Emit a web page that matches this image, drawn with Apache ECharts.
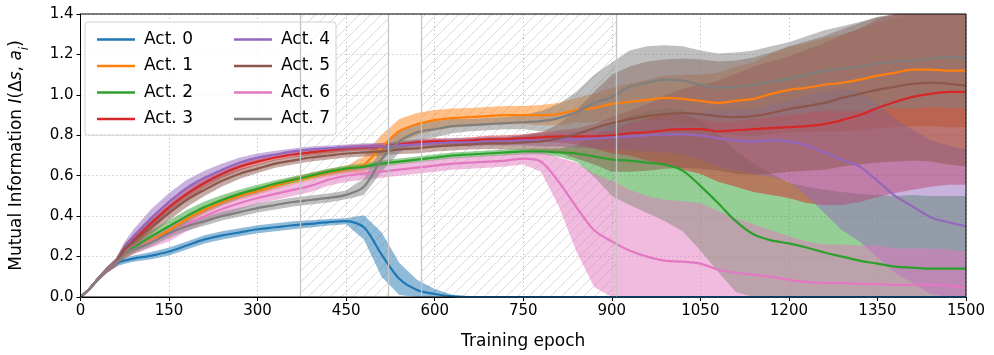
<!DOCTYPE html>
<html>
<head>
<meta charset="utf-8">
<script src="https://cdn.jsdelivr.net/npm/echarts@6/dist/echarts.min.js"></script>
<style>
  html, body { margin: 0; padding: 0; background: #fff; }
  #chart { width: 994px; height: 355px; }
</style>
</head>
<body>
<div id="chart"></div>
<script>
// Training epochs at which the curves are sampled
const epochs = [0, 15, 30, 45, 60, 75, 90,
  120, 150, 180, 210, 240, 270, 300, 330, 360, 390, 420, 450,
  480, 510, 540, 570, 600, 630, 660, 690, 720, 750,
  780, 810, 840, 870, 900, 930, 960, 990, 1020, 1050,
  1080, 1110, 1140, 1170, 1200, 1230, 1260, 1290, 1320, 1350,
  1380, 1410, 1440, 1470, 1500];

const names = ['Act. 0', 'Act. 1', 'Act. 2', 'Act. 3', 'Act. 4', 'Act. 5', 'Act. 6', 'Act. 7'];
const colors = ['#1f77b4', '#ff7f0e', '#2ca02c', '#d62728', '#9467bd', '#8c564b', '#e377c2', '#7f7f7f'];

// Mean mutual information per actuator
const mean0 = [0, 0.04, 0.09, 0.135, 0.165, 0.18, 0.19,
  0.205, 0.225, 0.255, 0.285, 0.305, 0.32, 0.335, 0.345, 0.355, 0.362, 0.37, 0.375,
  0.345, 0.21, 0.09, 0.035, 0.015, 0.003, 0, 0, 0, 0,
  0, 0, 0, 0, 0, 0, 0, 0, 0, 0,
  0, 0, 0, 0, 0, 0, 0, 0, 0, 0,
  0, 0, 0, 0, 0];
const mean1 = [0, 0.04, 0.09, 0.135, 0.168, 0.205, 0.235,
  0.28, 0.33, 0.385, 0.43, 0.47, 0.5, 0.525, 0.55, 0.575, 0.595, 0.615, 0.63,
  0.655, 0.74, 0.82, 0.855, 0.875, 0.885, 0.89, 0.895, 0.9, 0.9,
  0.9, 0.905, 0.925, 0.935, 0.955, 0.965, 0.975, 0.985, 0.98, 0.97,
  0.96, 0.97, 0.98, 1.005, 1.025, 1.035, 1.05, 1.06, 1.075, 1.095,
  1.11, 1.125, 1.125, 1.12, 1.12];
const mean2 = [0, 0.04, 0.09, 0.135, 0.168, 0.21, 0.245,
  0.3, 0.35, 0.4, 0.445, 0.48, 0.51, 0.535, 0.56, 0.58, 0.6, 0.62, 0.635,
  0.645, 0.66, 0.67, 0.68, 0.69, 0.7, 0.705, 0.71, 0.715, 0.72,
  0.72, 0.715, 0.71, 0.695, 0.68, 0.675, 0.665, 0.655, 0.625, 0.55,
  0.465, 0.375, 0.31, 0.28, 0.265, 0.245, 0.22, 0.2, 0.18, 0.165,
  0.15, 0.145, 0.14, 0.14, 0.14];
const mean3 = [0, 0.04, 0.09, 0.135, 0.17, 0.235, 0.28,
  0.365, 0.445, 0.51, 0.565, 0.61, 0.645, 0.67, 0.69, 0.705, 0.715, 0.725, 0.735,
  0.74, 0.745, 0.755, 0.765, 0.77, 0.77, 0.775, 0.78, 0.78, 0.785,
  0.79, 0.795, 0.795, 0.795, 0.8, 0.81, 0.815, 0.825, 0.83, 0.83,
  0.82, 0.825, 0.83, 0.835, 0.84, 0.845, 0.855, 0.875, 0.9, 0.935,
  0.965, 0.99, 1.005, 1.015, 1.015];
const mean4 = [0, 0.04, 0.09, 0.135, 0.172, 0.245, 0.3,
  0.39, 0.47, 0.54, 0.59, 0.63, 0.665, 0.69, 0.705, 0.72, 0.73, 0.735, 0.74,
  0.745, 0.745, 0.75, 0.755, 0.76, 0.765, 0.765, 0.77, 0.77, 0.775,
  0.775, 0.78, 0.78, 0.785, 0.79, 0.795, 0.8, 0.805, 0.805, 0.8,
  0.785, 0.775, 0.77, 0.775, 0.77, 0.75, 0.715, 0.68, 0.645, 0.575,
  0.5, 0.447, 0.395, 0.37, 0.35];
const mean5 = [0, 0.04, 0.09, 0.135, 0.17, 0.24, 0.275,
  0.345, 0.415, 0.48, 0.53, 0.575, 0.61, 0.635, 0.66, 0.675, 0.69, 0.7, 0.71,
  0.715, 0.72, 0.73, 0.735, 0.745, 0.75, 0.755, 0.76, 0.76, 0.765,
  0.77, 0.785, 0.805, 0.835, 0.86, 0.88, 0.895, 0.905, 0.91, 0.905,
  0.895, 0.89, 0.895, 0.91, 0.93, 0.945, 0.96, 0.985, 1.005, 1.025,
  1.04, 1.055, 1.06, 1.055, 1.045];
const mean6 = [0, 0.04, 0.09, 0.135, 0.165, 0.21, 0.235,
  0.275, 0.31, 0.36, 0.4, 0.435, 0.465, 0.49, 0.51, 0.53, 0.55, 0.58, 0.6,
  0.61, 0.62, 0.63, 0.64, 0.65, 0.66, 0.665, 0.67, 0.675, 0.685,
  0.67, 0.57, 0.445, 0.33, 0.275, 0.23, 0.2, 0.18, 0.175, 0.165,
  0.135, 0.12, 0.11, 0.1, 0.085, 0.075, 0.07, 0.07, 0.065, 0.065,
  0.06, 0.06, 0.06, 0.055, 0.045];
const mean7 = [0, 0.04, 0.09, 0.135, 0.165, 0.21, 0.235,
  0.27, 0.315, 0.35, 0.375, 0.4, 0.42, 0.44, 0.455, 0.47, 0.48, 0.49, 0.505,
  0.545, 0.68, 0.77, 0.815, 0.83, 0.845, 0.85, 0.855, 0.86, 0.865,
  0.87, 0.885, 0.915, 0.96, 0.99, 1.04, 1.06, 1.075, 1.07, 1.05,
  1.035, 1.04, 1.05, 1.065, 1.08, 1.1, 1.12, 1.13, 1.14, 1.155,
  1.165, 1.17, 1.18, 1.185, 1.18];

// Standard deviation across runs (half-width of the shaded band)
const std0 = [0, 0.005, 0.01, 0.012, 0.015, 0.015, 0.015,
  0.018, 0.02, 0.02, 0.02, 0.02, 0.02, 0.02, 0.02, 0.02, 0.018, 0.016, 0.015,
  0.06, 0.11, 0.08, 0.05, 0.025, 0.008, 0.002, 0.002, 0.002, 0.002,
  0.002, 0.002, 0.002, 0.002, 0.002, 0.002, 0.002, 0.002, 0.002, 0.002,
  0.002, 0.002, 0.002, 0.002, 0.002, 0.002, 0.002, 0.002, 0.002, 0.002,
  0.002, 0.002, 0.002, 0.002, 0.002];
const std1 = [0, 0.005, 0.01, 0.012, 0.015, 0.015, 0.015,
  0.015, 0.018, 0.018, 0.018, 0.018, 0.018, 0.018, 0.018, 0.018, 0.018, 0.018, 0.018,
  0.04, 0.06, 0.06, 0.055, 0.05, 0.048, 0.045, 0.045, 0.045, 0.045,
  0.05, 0.055, 0.06, 0.07, 0.08, 0.09, 0.1, 0.11, 0.12, 0.13,
  0.15, 0.17, 0.18, 0.2, 0.21, 0.22, 0.23, 0.24, 0.25, 0.26,
  0.27, 0.28, 0.28, 0.28, 0.28];
const std2 = [0, 0.005, 0.01, 0.012, 0.015, 0.02, 0.025,
  0.03, 0.03, 0.03, 0.028, 0.025, 0.022, 0.02, 0.018, 0.016, 0.015, 0.015, 0.015,
  0.015, 0.015, 0.015, 0.015, 0.015, 0.015, 0.015, 0.015, 0.015, 0.015,
  0.015, 0.02, 0.04, 0.1, 0.18, 0.22, 0.25, 0.28, 0.3, 0.32,
  0.34, 0.35, 0.35, 0.33, 0.3, 0.3, 0.31, 0.32, 0.33, 0.34,
  0.35, 0.36, 0.36, 0.36, 0.36];
const std3 = [0, 0.005, 0.01, 0.015, 0.02, 0.025, 0.03,
  0.035, 0.035, 0.03, 0.025, 0.022, 0.02, 0.018, 0.015, 0.015, 0.015, 0.015, 0.015,
  0.015, 0.015, 0.015, 0.015, 0.015, 0.015, 0.015, 0.018, 0.02, 0.02,
  0.025, 0.03, 0.04, 0.06, 0.09, 0.11, 0.14, 0.17, 0.2, 0.22,
  0.25, 0.28, 0.31, 0.33, 0.35, 0.38, 0.4, 0.42, 0.43, 0.44,
  0.45, 0.46, 0.46, 0.46, 0.46];
const std4 = [0, 0.005, 0.01, 0.015, 0.02, 0.03, 0.035,
  0.045, 0.045, 0.04, 0.035, 0.03, 0.025, 0.02, 0.018, 0.015, 0.015, 0.015, 0.015,
  0.015, 0.015, 0.018, 0.02, 0.02, 0.02, 0.02, 0.02, 0.02, 0.025,
  0.03, 0.035, 0.04, 0.05, 0.06, 0.07, 0.08, 0.09, 0.1, 0.12,
  0.14, 0.15, 0.16, 0.18, 0.2, 0.25, 0.3, 0.35, 0.37, 0.38,
  0.38, 0.38, 0.38, 0.38, 0.38];
const std5 = [0, 0.005, 0.01, 0.015, 0.02, 0.025, 0.03,
  0.035, 0.035, 0.035, 0.03, 0.028, 0.025, 0.022, 0.02, 0.02, 0.02, 0.02, 0.02,
  0.02, 0.02, 0.022, 0.025, 0.025, 0.025, 0.025, 0.028, 0.03, 0.035,
  0.045, 0.07, 0.12, 0.18, 0.24, 0.26, 0.27, 0.27, 0.27, 0.27,
  0.27, 0.28, 0.29, 0.3, 0.31, 0.32, 0.33, 0.34, 0.35, 0.36,
  0.37, 0.38, 0.39, 0.4, 0.4];
const std6 = [0, 0.005, 0.01, 0.012, 0.015, 0.02, 0.025,
  0.03, 0.035, 0.035, 0.035, 0.035, 0.033, 0.03, 0.03, 0.03, 0.03, 0.03, 0.03,
  0.03, 0.03, 0.03, 0.03, 0.03, 0.03, 0.03, 0.03, 0.03, 0.03,
  0.05, 0.12, 0.22, 0.28, 0.3, 0.3, 0.3, 0.3, 0.3, 0.3,
  0.29, 0.27, 0.25, 0.23, 0.215, 0.2, 0.19, 0.19, 0.19, 0.19,
  0.18, 0.18, 0.18, 0.18, 0.18];
const std7 = [0, 0.005, 0.01, 0.012, 0.015, 0.018, 0.02,
  0.02, 0.022, 0.022, 0.022, 0.022, 0.022, 0.022, 0.022, 0.022, 0.022, 0.022, 0.022,
  0.04, 0.06, 0.055, 0.045, 0.04, 0.035, 0.03, 0.03, 0.03, 0.035,
  0.05, 0.07, 0.1, 0.14, 0.17, 0.18, 0.18, 0.17, 0.17, 0.17,
  0.17, 0.17, 0.17, 0.175, 0.18, 0.19, 0.2, 0.21, 0.22, 0.23,
  0.23, 0.24, 0.24, 0.25, 0.25];

// Epoch ranges shaded with hatching
const hatchSpans = [[372, 521], [578, 908]];

const xTicks = { min: 0, max: 1500, step: 150 };
const yTicks = { min: 0, max: 1.4, step: 0.2 };

const means = [mean0, mean1, mean2, mean3, mean4, mean5, mean6, mean7];
const stds = [std0, std1, std2, std3, std4, std5, std6, std7];

const FONT = 'DejaVu Sans';

function hexToRgba(hex, a) {
  const n = parseInt(hex.slice(1), 16);
  return 'rgba(' + ((n >> 16) & 255) + ',' + ((n >> 8) & 255) + ',' + (n & 255) + ',' + a + ')';
}

// diagonal hatch tile
function hatchTile() {
  const s = 11;
  const c = document.createElement('canvas');
  c.width = s; c.height = s;
  const g = c.getContext('2d');
  g.strokeStyle = '#d6d6d6';
  g.lineWidth = 0.9;
  g.beginPath();
  g.moveTo(-1, s + 1); g.lineTo(s + 1, -1);
  g.moveTo(-1, 1); g.lineTo(1, -1);
  g.moveTo(s - 1, s + 1); g.lineTo(s + 1, s - 1);
  g.stroke();
  return c;
}

const clampY = v => Math.max(yTicks.min, Math.min(yTicks.max, v));

// Band polygon (mean - std .. mean + std) for one actuator, placed through the axes
function bandRenderer(k) {
  return function (params, api) {
    const m = means[k], s = stds[k];
    const upper = epochs.map((e, i) => api.coord([e, clampY(m[i] + s[i])]));
    const lower = epochs.map((e, i) => api.coord([e, clampY(m[i] - s[i])])).reverse();
    return {
      type: 'polygon',
      shape: { points: upper.concat(lower) },
      style: { fill: hexToRgba(colors[k], 0.5), stroke: null },
      silent: true
    };
  };
}

const series = [];

// hatched spans with their edge lines (drawn first, beneath everything)
series.push({
  type: 'line',
  name: 'spans',
  data: [],
  silent: true,
  z: 1,
  markArea: {
    silent: true,
    itemStyle: { color: { image: hatchTile(), repeat: 'repeat' }, borderWidth: 0 },
    data: hatchSpans.map(s => [{ xAxis: s[0] }, { xAxis: s[1] }])
  },
  markLine: {
    silent: true,
    symbol: ['none', 'none'],
    label: { show: false },
    lineStyle: { color: '#c6c6c6', width: 1.3, type: 'solid' },
    data: hatchSpans.flat().map(x => ({ xAxis: x }))
  }
});

// shaded bands
for (let k = 0; k < 8; k++) {
  series.push({
    type: 'custom',
    name: 'band' + k,
    data: [[0, 0]],
    renderItem: bandRenderer(k),
    silent: true,
    clip: true,
    z: 2
  });
}

// mean lines
for (let k = 0; k < 8; k++) {
  series.push({
    type: 'line',
    name: names[k],
    data: epochs.map((e, i) => [e, means[k][i]]),
    symbol: 'none',
    showSymbol: false,
    smooth: 0.3,
    color: colors[k],
    lineStyle: { color: colors[k], width: 2.2 },
    z: 3,
    emphasis: { disabled: true }
  });
}

const legendCommon = {
  orient: 'vertical',
  top: 25,
  icon: 'rect',
  itemWidth: 38,
  itemHeight: 2.6,
  itemGap: 7.5,
  z: 6,
  selectedMode: false,
  textStyle: { fontFamily: FONT, fontSize: 17, color: '#000', lineHeight: 19, padding: [0, 0, 0, 4] }
};

const chart = echarts.init(document.getElementById('chart'), null, { renderer: 'canvas' });
chart.setOption({
  animation: false,
  backgroundColor: '#fff',
  grid: {
    left: 78, right: 28, top: 14, bottom: 58, z: 10,
    show: true, borderColor: '#000', borderWidth: 1, backgroundColor: 'transparent'
  },
  legend: [
    Object.assign({}, legendCommon, { left: 92, data: names.slice(0, 4) }),
    Object.assign({}, legendCommon, { left: 229, data: names.slice(4, 8) })
  ],
  graphic: [{
    type: 'rect',
    z: 5,
    shape: { x: 85, y: 22, width: 251, height: 113, r: 3 },
    style: { fill: 'rgba(255,255,255,0.8)', stroke: '#d0d0d0', lineWidth: 1 }
  }],
  xAxis: {
    type: 'value',
    min: xTicks.min, max: xTicks.max, interval: xTicks.step,
    name: 'Training epoch',
    nameLocation: 'middle',
    nameGap: 36,
    nameTextStyle: { fontFamily: FONT, fontSize: 17, color: '#000' },
    axisLine: { show: true, lineStyle: { color: '#000', width: 1 } },
    axisTick: { show: true, inside: false, length: 4, lineStyle: { color: '#000' } },
    axisLabel: { fontFamily: FONT, fontSize: 15, color: '#000', margin: 7, formatter: v => String(v) },
    splitLine: { show: true, lineStyle: { color: '#b0b0b0', type: [1, 3], width: 1 } }
  },
  yAxis: {
    type: 'value',
    min: yTicks.min, max: yTicks.max, interval: yTicks.step,
    name: '{n|Mutual Information }{i|I}{n|(Δ}{i|s}{n|, }{i|a}{sub|i}{n|)}',
    nameLocation: 'middle',
    nameRotate: 90,
    nameGap: 54,
    nameTextStyle: {
      fontFamily: FONT, fontSize: 17, color: '#000',
      rich: {
        n: { fontFamily: FONT, fontSize: 17, color: '#000', lineHeight: 20 },
        i: { fontFamily: FONT, fontSize: 17, color: '#000', fontStyle: 'italic', lineHeight: 20 },
        sub: { fontFamily: FONT, fontSize: 12, color: '#000', fontStyle: 'italic', lineHeight: 12, verticalAlign: 'bottom', padding: [0, 0, -4, 0] }
      }
    },
    axisLine: { show: true, lineStyle: { color: '#000', width: 1 } },
    axisTick: { show: true, inside: false, length: 4, lineStyle: { color: '#000' } },
    axisLabel: { fontFamily: FONT, fontSize: 15, color: '#000', margin: 7, formatter: v => v.toFixed(1) },
    splitLine: { show: true, lineStyle: { color: '#b0b0b0', type: [1, 3], width: 1 } }
  },
  series: series
});
</script>
</body>
</html>
